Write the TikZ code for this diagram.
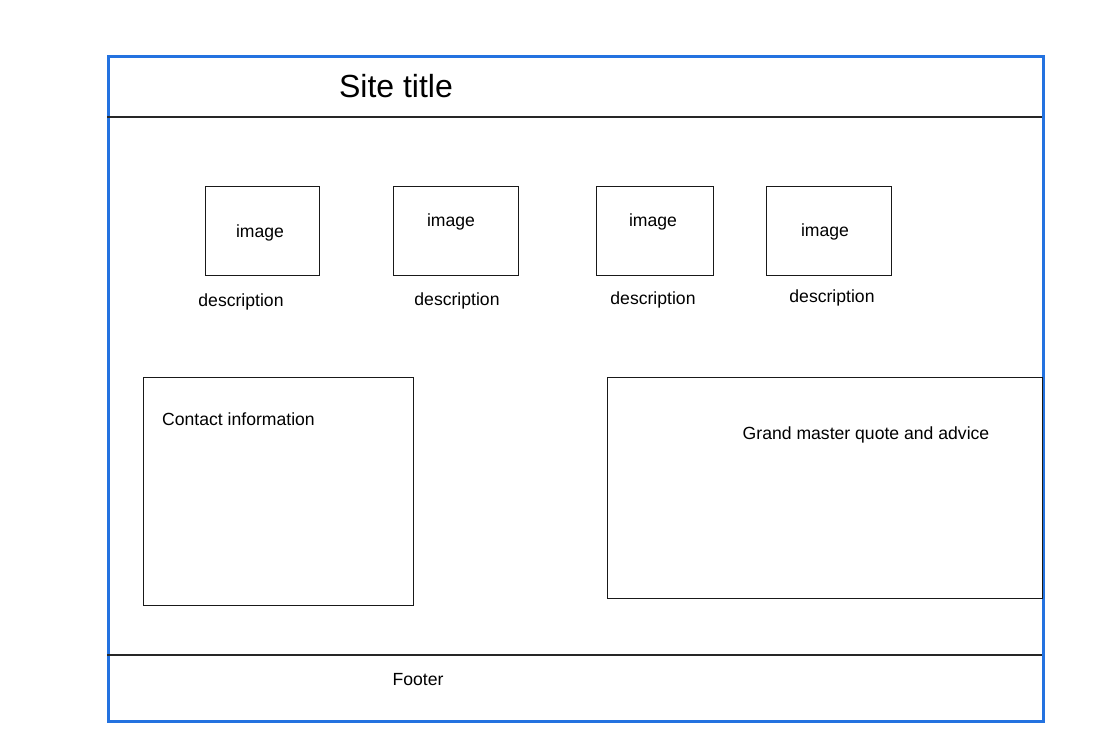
\documentclass[tikz,border=0pt]{standalone}
\usepackage{fontspec}
\setmainfont{Liberation Sans}
\begin{document}
\begin{tikzpicture}[x=1pt,y=-1pt,
  frame/.style={draw=pageblue,line width=2.6pt},
  rule/.style={draw=black!85,line width=1.1pt},
  box/.style={draw=black!90,line width=1pt,inner sep=0pt,anchor=north west},
  lbl/.style={inner sep=0pt,yshift=-2pt,font=\fontsize{17.6}{20}\selectfont},
  title/.style={inner sep=0pt,font=\fontsize{32}{36}\selectfont}]
\definecolor{pageblue}{HTML}{2372E0}
\useasboundingbox (0,0) rectangle (1116,737);
% page frame and section rules
\node[frame,inner sep=0pt,anchor=north west,minimum width=935pt,minimum height=665pt] (page) at (107,55) {};
\coordinate (hl) at (107,117); \coordinate (hr) at (1042,117);
\coordinate (fl) at (107,655); \coordinate (fr) at (1042,655);
\draw[rule] (hl) -- (hr);
\draw[rule] (fl) -- (fr);
\node[title] (sitetitle) at (396,86) {Site title};
% image tiles
\node[box,minimum width=114pt,minimum height=89pt] (img1) at (205,186) {};
\node[box,minimum width=125pt,minimum height=89pt] (img2) at (393,186) {};
\node[box,minimum width=117pt,minimum height=89pt] (img3) at (596,186) {};
\node[box,minimum width=125pt,minimum height=89pt] (img4) at (766,186) {};
\node[lbl] (imgt1) at (260,231) {image};
\node[lbl] (imgt2) at (451,220) {image};
\node[lbl] (imgt3) at (653,220) {image};
\node[lbl] (imgt4) at (825,230) {image};
\node[lbl] (desc1) at (241,300) {description};
\node[lbl] (desc2) at (457,299) {description};
\node[lbl] (desc3) at (653,298) {description};
\node[lbl] (desc4) at (832,296) {description};
% lower panels
\node[box,minimum width=270pt,minimum height=228pt] (contact) at (143,377) {};
\node[lbl,anchor=west] (contactt) at (162,417) {Contact information};
\node[box,minimum width=435pt,minimum height=221pt] (quote) at (607,377) {};
\node[lbl] (quotet) at (866,433) {Grand master quote and advice};
\node[lbl] (footer) at (418,678) {Footer};
\end{tikzpicture}
\end{document}
